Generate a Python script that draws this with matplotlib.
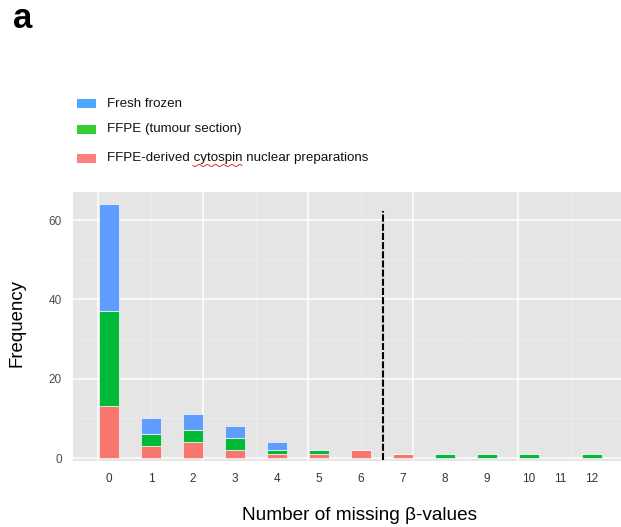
import numpy as np
import matplotlib
matplotlib.use('Agg')
import matplotlib.pyplot as plt
from matplotlib.patches import Rectangle

plt.rcParams['font.family'] = ['Liberation Sans', 'DejaVu Sans']

# counts per number of missing beta-values (0..10, 12)
bin_pos = [0, 1, 2, 3, 4, 5, 6, 7, 8, 9, 10, 11.5]
cytospin = [13, 3, 4, 2, 1, 1, 2, 1, 0, 0, 0, 0]
ffpe = [24, 3, 3, 3, 1, 1, 0, 0, 1, 1, 1, 1]
fresh = [27, 4, 4, 3, 2, 0, 0, 0, 0, 0, 0, 0]

tick_pos = [0, 1, 2, 3, 4, 5, 6, 7, 8, 9, 10, 10.75, 11.5]
tick_labels = ['0', '1', '2', '3', '4', '5', '6', '7', '8', '9', '10', '11', '12']
cutoff = 6.53

legend_names = ['Fresh frozen', 'FFPE (tumour section)', 'FFPE-derived cytospin nuclear preparations']
legend_cols = ['#4DA6FF', '#33CC33', '#FF8080']
bar_cols = {'fresh': '#619CFF', 'ffpe': '#00BA38', 'cyto': '#F8766D'}

W, H = 621, 527
fig = plt.figure(figsize=(W/100, H/100), dpi=100)
ax = fig.add_axes([73/W, 1-460.5/H, 1-73/W, (460.5-192)/H])
ax.set_facecolor('#E5E5E5')
for s in ax.spines.values():
    s.set_visible(False)

ax.set_xlim(-0.857, 12.19)
ax.set_ylim(-0.63, 67.1)

# ggplot style grid
major_x = np.arange(-0.255, 12.3, 2.5)
minor_x = major_x + 1.25
for x in major_x:
    ax.axvline(x, color='white', lw=1.1, zorder=0)
for x in minor_x:
    ax.axvline(x, color='#EFEFEF', lw=0.5, zorder=0)
for y in [0, 20, 40, 60]:
    ax.axhline(y, color='white', lw=1.1, zorder=0)
for y in [10, 30, 50]:
    ax.axhline(y, color='#EFEFEF', lw=0.5, zorder=0)

cyto = np.array(cytospin)
ff = np.array(ffpe)
fr = np.array(fresh)
w = 0.476
ax.bar(bin_pos, cyto, width=w, color=bar_cols['cyto'], edgecolor='#FAFAFA', lw=0.5, zorder=2)
ax.bar(bin_pos, ff, width=w, bottom=cyto, color=bar_cols['ffpe'], edgecolor='#FAFAFA', lw=0.5, zorder=2)
ax.bar(bin_pos, fr, width=w, bottom=cyto+ff, color=bar_cols['fresh'], edgecolor='#FAFAFA', lw=0.5, zorder=2)

ax.plot([cutoff, cutoff], [-0.63, 62.4], color='black', lw=1.5, dashes=(3.4, 1.0), zorder=3)

ax.set_yticks([0, 20, 40, 60])
ax.set_xticks(tick_pos)
ax.set_xticklabels(tick_labels)
ax.tick_params(axis='y', length=0, pad=8, labelsize=8.5, labelcolor='#4D4D4D')
ax.tick_params(axis='x', length=0, pad=9, labelsize=8.5, labelcolor='#333333')

fig.text(17/W, 1-323/H, 'Frequency', rotation=90, ha='center', va='center', fontsize=13.4)
fig.text(360/W, 1-515/H, 'Number of missing \u03b2-values', ha='center', va='center', fontsize=13.7)
fig.text(23/W, 1-19/H, 'a', ha='center', va='center', fontsize=25, fontweight='bold')

# legend drawn as separate overlay
leg_y = [104, 129, 158.5]
for name, col, y in zip(legend_names, legend_cols, leg_y):
    fig.add_artist(Rectangle((77/W, 1-(y+4.5)/H), 19/W, 9/H, transform=fig.transFigure,
                             facecolor=col, edgecolor='none'))
    fig.text(107/W, 1-y/H, name, ha='left', va='center', fontsize=9.6, color='#111111')

# spell-check squiggle under "cytospin"
sx = np.linspace(193, 242, 60)
sy = 165.5 + 1.0*np.sin((sx-193)/1.3)
fig.add_artist(plt.Line2D(sx/W, 1-sy/H, transform=fig.transFigure, color='#E03030', lw=0.7))

fig.savefig('out.png', dpi=100)
